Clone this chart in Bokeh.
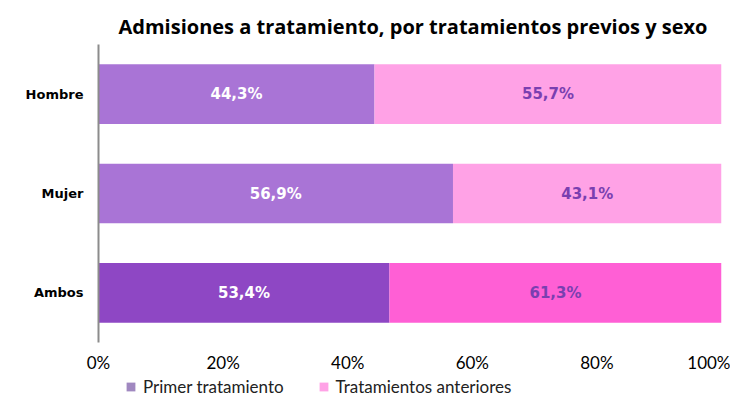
from bokeh.plotting import figure
from bokeh.layouts import column
from bokeh.models import ColumnDataSource, FactorRange, Range1d, FixedTicker, Legend, LegendItem
from bokeh.core.properties import value
from bokeh.embed import file_html
from bokeh.resources import INLINE

categories = ["Hombre", "Mujer", "Ambos"]
primer = [44.3, 56.9, 46.7]
anteriores = [55.7, 43.1, 53.3]
primer_labels = ["44,3%", "56,9%", "53,4%"]
anteriores_labels = ["55,7%", "43,1%", "61,3%"]
primer_colors = ["#A974D6", "#A974D6", "#8E47C4"]
anteriores_colors = ["#FFA2E6", "#FFA2E6", "#FF5FD5"]
ticks = [0, 20, 40, 60, 80, 100]
tick_labels = ["0%", "20%", "40%", "60%", "80%", "100%"]
series_names = ["Primer tratamiento", "Tratamientos anteriores"]
legend_colors = ["#A088C0", "#FFA2E6"]

src = ColumnDataSource(dict(
    cat=categories,
    p_end=primer,
    a_end=[p + a for p, a in zip(primer, anteriores)],
    p_mid=[p / 2 for p in primer],
    a_mid=[p + a / 2 for p, a in zip(primer, anteriores)],
    pl=primer_labels,
    al=anteriores_labels,
    pc=primer_colors,
    ac=anteriores_colors,
))

p = figure(width=730, height=375, output_backend="svg", toolbar_location=None,
           y_range=FactorRange(factors=categories[::-1], range_padding=0),
           x_range=Range1d(0, 100),
           min_border_left=98, min_border_right=9, min_border_top=44, min_border_bottom=30)
p.title.text = "Admisiones a tratamiento, por tratamientos previos y sexo"
p.title.text_font = "Open Sans"
p.title.text_font_size = "20px"
p.title.text_font_style = "bold"
p.title.text_color = "black"
p.title.align = "left"
p.title.offset = 20
p.title.standoff = 10

p.hbar(y="cat", left=0, right="p_end", height=0.6, fill_color="pc", line_color=None, source=src)
p.hbar(y="cat", left="p_end", right="a_end", height=0.6, fill_color="ac", line_color=None, source=src)
p.text(x="p_mid", y="cat", text="pl", source=src, text_align="center", text_baseline="middle",
       text_color="white", text_font=value("DejaVu Sans"), text_font_style="bold", text_font_size="15px")
p.text(x="a_mid", y="cat", text="al", source=src, text_align="center", text_baseline="middle",
       text_color="#7A3FB0", text_font=value("DejaVu Sans"), text_font_style="bold", text_font_size="15px")

p.grid.visible = False
p.outline_line_color = None
p.xaxis.ticker = FixedTicker(ticks=ticks)
p.xaxis.major_label_overrides = {t: l for t, l in zip(ticks, tick_labels)}
p.xaxis.axis_line_color = None
p.xaxis.major_tick_line_color = None
p.xaxis.major_tick_out = 0
p.xaxis.major_tick_in = 0
p.xaxis.minor_tick_line_color = None
p.xaxis.major_label_standoff = 9
p.xaxis.major_label_text_font = "Lato"
p.xaxis.major_label_text_font_size = "17px"
p.xaxis.major_label_text_color = "black"

p.yaxis.axis_line_color = "#8C8C8C"
p.yaxis.axis_line_width = 2
p.yaxis.major_tick_line_color = None
p.yaxis.major_tick_out = 0
p.yaxis.minor_tick_line_color = None
p.yaxis.major_label_standoff = 15
p.yaxis.major_label_text_font = "DejaVu Sans"
p.yaxis.major_label_text_font_style = "bold"
p.yaxis.major_label_text_font_size = "13px"
p.yaxis.major_label_text_color = "black"

# legend strip below the chart
lg = figure(width=730, height=23, output_backend="svg", toolbar_location=None,
            x_range=Range1d(0, 1), y_range=Range1d(0, 1),
            min_border=0, x_axis_type=None, y_axis_type=None)
lg.grid.visible = False
lg.outline_line_color = None
r1 = lg.rect(x=[-5], y=[-5], width=1, height=1, fill_color=legend_colors[0], line_color=None)
r2 = lg.rect(x=[-5], y=[-5], width=1, height=1, fill_color=legend_colors[1], line_color=None)
legend = Legend(items=[LegendItem(label=series_names[0], renderers=[r1]),
                       LegendItem(label=series_names[1], renderers=[r2])],
                orientation="horizontal", location=(27, 1), border_line_color=None,
                background_fill_alpha=0, label_text_font="Lato", label_text_font_size="17px",
                label_text_color="#222222", label_height=20,
                glyph_width=11, glyph_height=11, spacing=34, label_standoff=7, padding=0, margin=0)
lg.add_layout(legend, "center")

layout = column(p, lg, spacing=0)
open("out.html", "w").write(file_html(layout, INLINE))
